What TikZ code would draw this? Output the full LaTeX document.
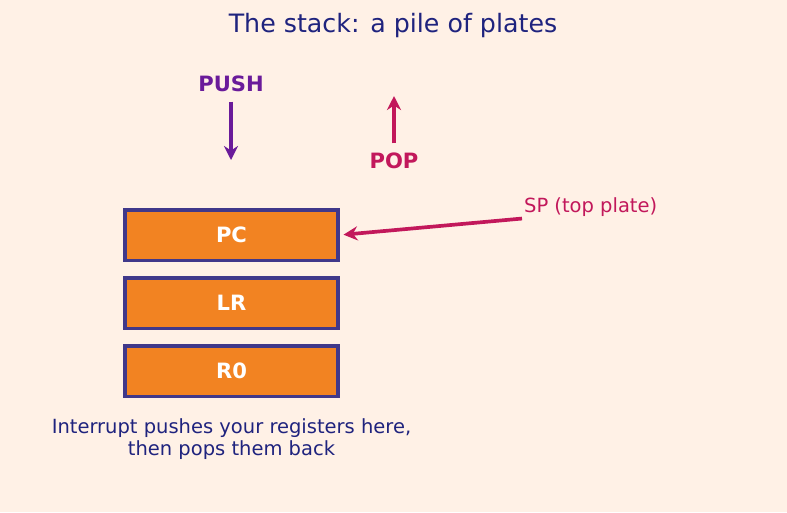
\documentclass[tikz,border=0pt]{standalone}
\usepackage{fontspec}
\setmainfont{DejaVu Sans}
\usepackage{xcolor}
\usetikzlibrary{arrows.meta, positioning}

\definecolor{bgcream}{HTML}{FFF1E6}
\definecolor{navy}{HTML}{1F237E}
\definecolor{pushpurple}{HTML}{6A1B9A}
\definecolor{popred}{HTML}{C2185B}
\definecolor{plateorange}{HTML}{F28322}
\definecolor{plateedge}{HTML}{40388A}

\begin{document}
\begin{tikzpicture}[
  x=0.02cm, y=-0.02cm,
  node distance = 0.28cm,
  plate/.style = {
    rectangle, draw=plateedge, fill=plateorange,
    line width=2pt,
    minimum width=4.27cm, minimum height=1.01cm,
    text=white, font=\fontsize{12}{14}\selectfont\bfseries
  },
  lbl/.style = {font=\fontsize{12}{14}\selectfont\bfseries},
  arr/.style = {-{Stealth[length=8pt, width=8pt]}, line width=2.1pt}
]

%% ---- background and title ----
\fill[bgcream] (0,0) rectangle (787,512);
\useasboundingbox (0,0) rectangle (787,512);
\node[text=navy, font=\fontsize{14.4}{17}\selectfont] (title) at (393,26) {The stack: a pile of plates};

%% ---- the pile ----
\node[plate] (pc) at (231.5,235) {PC};
\node[plate, below=of pc] (lr) {LR};
\node[plate, below=of lr] (r0) {R0};

\node[text=navy, align=center, font=\fontsize{11.1}{13}\selectfont, below=0.28cm of r0] (note)
  {Interrupt pushes your registers here,\\then pops them back};

%% ---- push / pop ----
\node[lbl, text=pushpurple] (push) at (231,84) {PUSH};
\coordinate (pushend) at (231,160);
\draw[arr, pushpurple, shorten <=2pt] (push.south) -- (pushend);

\node[lbl, text=popred] (pop) at (394,161) {POP};
\coordinate (popend) at (394,96);
\draw[arr, popred, shorten <=2pt] (pop.north) -- (popend);

%% ---- stack pointer ----
\node[text=popred, anchor=west, inner sep=1pt, font=\fontsize{11.1}{13}\selectfont] (sp) at (522,207) {SP (top plate)};
\draw[arr, popred, shorten >=2pt] (sp.south west) -- (pc.east);

\end{tikzpicture}
\end{document}
